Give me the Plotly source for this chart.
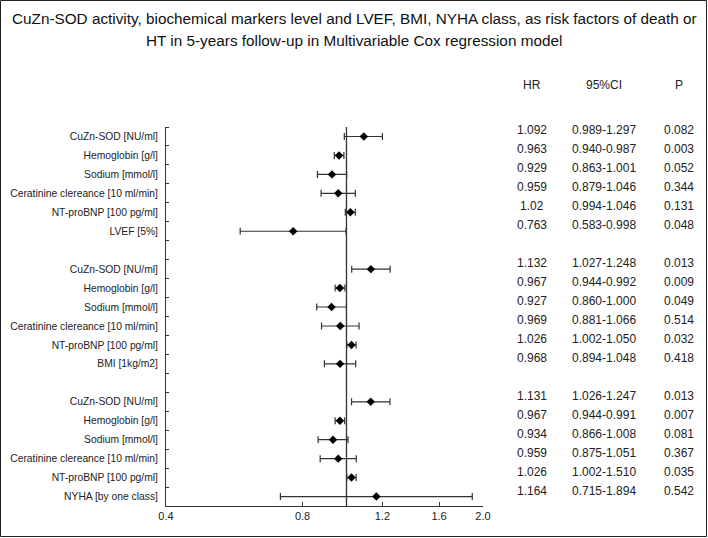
import plotly.graph_objects as go

# ---- data ----
labels = [
    "CuZn-SOD [NU/ml]", "Hemoglobin [g/l]", "Sodium [mmol/l]",
    "Ceratinine clereance [10 ml/min]", "NT-proBNP [100 pg/ml]", "LVEF [5%]",
    "CuZn-SOD [NU/ml]", "Hemoglobin [g/l]", "Sodium [mmol/l]",
    "Ceratinine clereance [10 ml/min]", "NT-proBNP [100 pg/ml]", "BMI [1kg/m2]",
    "CuZn-SOD [NU/ml]", "Hemoglobin [g/l]", "Sodium [mmol/l]",
    "Ceratinine clereance [10 ml/min]", "NT-proBNP [100 pg/ml]", "NYHA [by one class]",
]
group_of_row = [0]*6 + [1]*6 + [2]*6
hr = [1.092, 0.963, 0.929, 0.959, 1.02, 0.763,
      1.132, 0.967, 0.927, 0.969, 1.026, 0.968,
      1.131, 0.967, 0.934, 0.959, 1.026, 1.164]
ci_low = [0.989, 0.940, 0.863, 0.879, 0.994, 0.583,
          1.027, 0.944, 0.860, 0.881, 1.002, 0.894,
          1.026, 0.944, 0.866, 0.875, 1.002, 0.715]
# upper whiskers as drawn in the picture
ci_high = [1.20, 0.987, 1.001, 1.046, 1.046, 0.998,
           1.248, 0.992, 1.000, 1.066, 1.050, 1.048,
           1.247, 0.991, 1.008, 1.051, 1.050, 1.894]
hr_text = ["1.092", "0.963", "0.929", "0.959", "1.02", "0.763",
           "1.132", "0.967", "0.927", "0.969", "1.026", "0.968",
           "1.131", "0.967", "0.934", "0.959", "1.026", "1.164"]
ci_text = ["0.989-1.297", "0.940-0.987", "0.863-1.001", "0.879-1.046", "0.994-1.046", "0.583-0.998",
           "1.027-1.248", "0.944-0.992", "0.860-1.000", "0.881-1.066", "1.002-1.050", "0.894-1.048",
           "1.026-1.247", "0.944-0.991", "0.866-1.008", "0.875-1.051", "1.002-1.510", "0.715-1.894"]
p_text = ["0.082", "0.003", "0.052", "0.344", "0.131", "0.048",
          "0.013", "0.009", "0.049", "0.514", "0.032", "0.418",
          "0.013", "0.007", "0.081", "0.367", "0.035", "0.542"]
x_ticks = [0.4, 0.8, 1.2, 1.6, 2.0]
x_ticktext = ["0.4", "0.8", "1.2", "1.6", "2.0"]
title_lines = [
    "CuZn-SOD activity, biochemical markers level and LVEF, BMI, NYHA class, as risk factors of death or",
    "HT in 5-years follow-up in Multivariable Cox regression model",
]
headers = ["HR", "95%CI", "P"]

# row positions: one empty row between groups
ypos = [i + g for i, g in enumerate(group_of_row)]
n_pos = ypos[-1] + 1

W, H = 708, 538
L, R, T, B = 166, 225, 127, 32
PW, PH = W - L - R, H - T - B
FONT = "Arial, Liberation Sans, sans-serif"

def px_to_paper_x(px):
    return (px - L) / PW

def py_to_paper_y(py):
    return (H - B - py) / PH

fig = go.Figure()
fig.add_trace(go.Scatter(
    x=hr, y=ypos, mode="markers",
    marker=dict(symbol="diamond", size=6.5, color="black"),
    error_x=dict(type="data", symmetric=False,
                 array=[h - v for h, v in zip(ci_high, hr)],
                 arrayminus=[v - l for v, l in zip(hr, ci_low)],
                 color="#333333", thickness=1.2, width=3.5),
    showlegend=False, hoverinfo="x+y",
))

# reference line at HR = 1
fig.add_shape(type="line", xref="x", yref="paper", x0=1, x1=1, y0=0, y1=1,
              line=dict(color="#333333", width=1.3))

# figure border
fig.add_shape(type="rect", xref="paper", yref="paper",
              x0=px_to_paper_x(0.5), x1=px_to_paper_x(W - 1.5),
              y0=py_to_paper_y(H - 1.5), y1=py_to_paper_y(0.5),
              line=dict(color="#222222", width=1))

# title
for line, py in zip(title_lines, [18, 41]):
    fig.add_annotation(text=line, xref="paper", yref="paper",
                       x=px_to_paper_x(W / 2), y=py_to_paper_y(py),
                       xanchor="center", yanchor="middle", showarrow=False,
                       font=dict(family=FONT, size=15.3, color="#111111"))

# table
col_x = [532, 604, 679]
for hx, ht in zip(col_x, headers):
    fig.add_annotation(text=ht, xref="paper", yref="paper",
                       x=px_to_paper_x(hx), y=py_to_paper_y(85),
                       xanchor="center", yanchor="middle", showarrow=False,
                       font=dict(family=FONT, size=12, color="#222222"))
for yv, a, b, c in zip(ypos, hr_text, ci_text, p_text):
    for hx, t in zip(col_x, (a, b, c)):
        fig.add_annotation(text=t, xref="paper", yref="y",
                           x=px_to_paper_x(hx), y=yv, yshift=6,
                           xanchor="center", yanchor="middle", showarrow=False,
                           font=dict(family=FONT, size=12, color="#222222"))

fig.update_layout(
    width=W, height=H,
    margin=dict(l=L, r=R, t=T, b=B, autoexpand=False),
    paper_bgcolor="white", plot_bgcolor="white",
    font=dict(family=FONT, size=10.3, color="#222222"),
    xaxis=dict(type="log", range=[-0.39794, 0.30103], automargin=False,
               tickmode="array", tickvals=x_ticks, ticktext=x_ticktext,
               ticks="inside", ticklen=4, tickcolor="#333333",
               showline=True, linecolor="#333333", linewidth=1,
               showgrid=False, zeroline=False,
               tickfont=dict(family=FONT, size=11, color="#222222")),
    yaxis=dict(range=[n_pos - 0.5, -0.5], automargin=False,
               tickmode="array", tickvals=ypos, ticktext=labels,
               ticks="", ticklabelstandoff=5,
               showline=True, linecolor="#333333", linewidth=1,
               showgrid=False, zeroline=False,
               tickfont=dict(family=FONT, size=10.3, color="#222222"),
               minor=dict(tickmode="array",
                          tickvals=[k - 0.5 for k in range(n_pos + 1)],
                          ticks="inside", ticklen=3, tickcolor="#333333",
                          showgrid=False)),
)

fig.write_html("out.html",
               config={"displayModeBar": False},
               post_script="document.body.style.margin='0px';document.body.style.padding='0px';")
